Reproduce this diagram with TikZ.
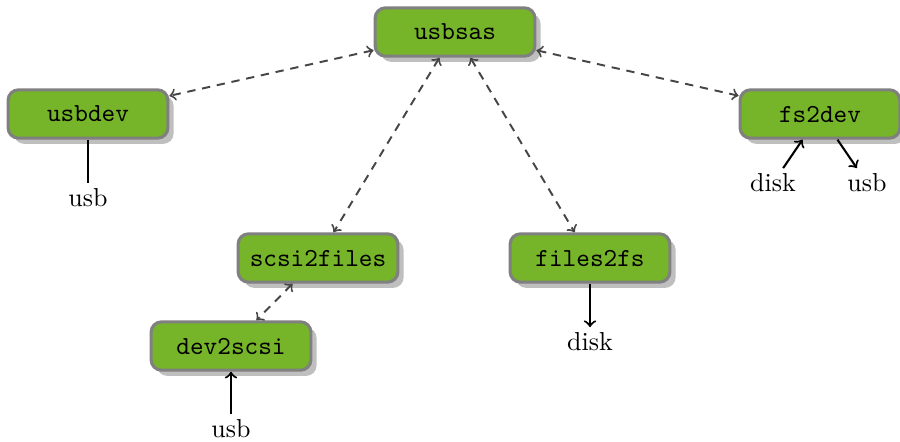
\documentclass[tikz,border=0pt]{standalone}
\usetikzlibrary{shadows}
\definecolor{boxgreen}{RGB}{118,181,41}
\definecolor{boxborder}{RGB}{128,128,128}
\definecolor{dashgray}{RGB}{70,70,70}
\begin{document}
\begin{tikzpicture}[x=0.385pt,y=-0.385pt,
  comp/.style={draw=boxborder, line width=1.2pt, fill=boxgreen, rounded corners=4pt,
    minimum width=61.5pt, minimum height=18.6pt, inner sep=0pt,
    font=\ttfamily,
    drop shadow={shadow xshift=2.2pt, shadow yshift=-2.2pt, fill=black!25, opacity=1}},
  lbl/.style={inner sep=2pt},
  dlink/.style={<->, dash pattern=on 3.2pt off 2.6pt, draw=dashgray, line width=0.75pt},
  slink/.style={line width=0.8pt, black}]
\useasboundingbox (0,0) rectangle (900,441);
\node[comp] (usbsas) at (455,32) {usbsas};
\node[comp] (usbdev) at (88,114) {usbdev};
\node[comp] (fs2dev) at (820,114) {fs2dev};
\node[comp] (scsi2files) at (318,258) {scsi2files};
\node[comp] (files2fs) at (590,258) {files2fs};
\node[comp] (dev2scsi) at (231,346) {dev2scsi};

\node[lbl] (usb1) at (88,198) {usb};
\node[lbl] (disk1) at (773,183) {disk};
\node[lbl] (usb2) at (867,183) {usb};
\node[lbl] (disk2) at (590,342) {disk};
\node[lbl] (usb3) at (231,429) {usb};

\draw[dlink] (usbsas) -- (usbdev);
\draw[dlink] (usbsas) -- (fs2dev);
\draw[dlink] (usbsas) -- (scsi2files);
\draw[dlink] (usbsas) -- (files2fs);
\draw[dlink] (scsi2files) -- (dev2scsi);

\draw[slink] (usbdev) -- (usb1);
\draw[slink,->] (disk1) -- (fs2dev);
\draw[slink,->] (fs2dev) -- (usb2);
\draw[slink,->] (files2fs) -- (disk2);
\draw[slink,->] (usb3) -- (dev2scsi);
\end{tikzpicture}
\end{document}
